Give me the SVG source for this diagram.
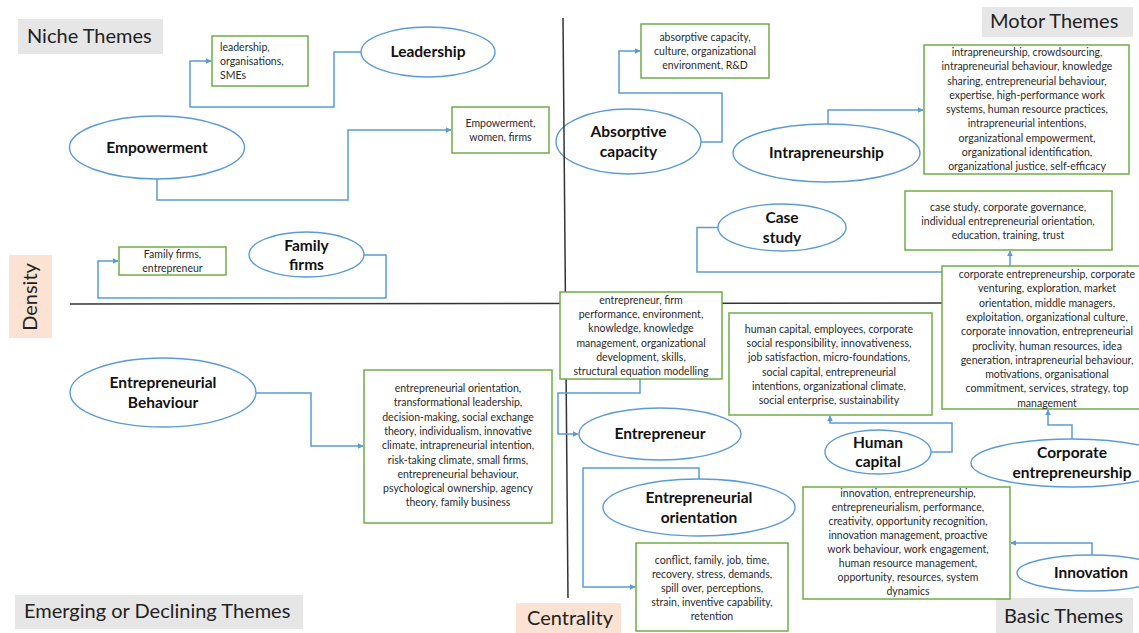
<svg xmlns="http://www.w3.org/2000/svg" width="1139" height="633" viewBox="0 0 1139 633">
<style>
.hdr{fill:#E7E6E6}
.axl{fill:#FBE2D2}
.ht{font-family:Lato,"Liberation Sans",sans-serif;font-size:20px;fill:#222}
.el{fill:#fff;stroke:#5B9BD5;stroke-width:1.4}
.bx{fill:#fff;stroke:#70AD47;stroke-width:1.5}
.lb{font-family:Lato,"Liberation Sans",sans-serif;font-size:15.5px;font-weight:bold;fill:#111;text-anchor:middle}
.tx{font-family:Lato,"Liberation Sans",sans-serif;font-size:10.5px;fill:#2a2a2a;text-anchor:middle}
.txl{font-family:Lato,"Liberation Sans",sans-serif;font-size:10.5px;fill:#2a2a2a}
.cn{fill:none;stroke:#5B9BD5;stroke-width:1.5}
.ax{stroke:#333;stroke-width:1.5;fill:none}
</style>
<defs>
<marker id="ar" viewBox="0 0 10 10" refX="9" refY="5" markerWidth="6" markerHeight="6" orient="auto" markerUnits="userSpaceOnUse">
<path d="M0,0 L10,5 L0,10 z" fill="#5B9BD5"/>
</marker>
</defs>
<rect width="1139" height="633" fill="#fff"/>

<g id="quadrant-labels">
<rect class="hdr" x="18" y="19" width="145" height="35"/>
<text class="ht" x="27" y="43">Niche Themes</text>
<rect class="hdr" x="982" y="7" width="151" height="30"/>
<text class="ht" x="990" y="28">Motor Themes</text>
<rect class="hdr" x="15" y="595" width="288" height="34"/>
<text class="ht" x="24" y="618">Emerging or Declining Themes</text>
<rect class="hdr" x="996" y="598" width="137" height="35"/>
<text class="ht" x="1004" y="623">Basic Themes</text>
<rect class="axl" x="9" y="255" width="43" height="83"/>
<text class="ht" x="0" y="0" text-anchor="middle" transform="translate(37,297) rotate(-90)">Density</text>
<rect class="axl" x="516" y="603" width="105" height="30"/>
<text class="ht" x="527" y="625">Centrality</text>
</g>

<g id="n-leadership"><ellipse class="el" cx="428" cy="52" rx="67" ry="25"/><text class="lb" x="428" y="57">Leadership</text></g>
<g id="n-empowerment"><ellipse class="el" cx="157" cy="147.5" rx="87.5" ry="31.5"/><text class="lb" x="157" y="153">Empowerment</text></g>
<g id="n-family-firms"><ellipse class="el" cx="306.5" cy="254.5" rx="57.5" ry="22.5"/><text class="lb" x="306.5" y="251">Family</text><text class="lb" x="306.5" y="270">firms</text></g>
<g id="n-absorptive"><ellipse class="el" cx="628.5" cy="141.5" rx="72.5" ry="32.5"/><text class="lb" x="628.5" y="137">Absorptive</text><text class="lb" x="628.5" y="157">capacity</text></g>
<g id="n-intrapreneurship"><ellipse class="el" cx="826.5" cy="153" rx="93.5" ry="29"/><text class="lb" x="826.5" y="158">Intrapreneurship</text></g>
<g id="n-case-study"><ellipse class="el" cx="782" cy="227.5" rx="64" ry="23.5"/><text class="lb" x="782" y="223">Case</text><text class="lb" x="782" y="243">study</text></g>
<g id="n-entrepreneurial-behaviour"><ellipse class="el" cx="163" cy="392.5" rx="93" ry="34.5"/><text class="lb" x="163" y="388">Entrepreneurial</text><text class="lb" x="163" y="408">Behaviour</text></g>
<g id="n-entrepreneur"><ellipse class="el" cx="660" cy="434" rx="81" ry="26"/><text class="lb" x="660" y="439">Entrepreneur</text></g>
<g id="n-entrepreneurial-orientation"><ellipse class="el" cx="699" cy="507.5" rx="96" ry="28.5"/><text class="lb" x="699" y="503">Entrepreneurial</text><text class="lb" x="699" y="523">orientation</text></g>
<g id="n-human-capital"><ellipse class="el" cx="878" cy="452" rx="53" ry="22"/><text class="lb" x="878" y="448">Human</text><text class="lb" x="878" y="467">capital</text></g>
<g id="n-corporate-entrepreneurship"><ellipse class="el" cx="1072" cy="463" rx="101" ry="24"/><text class="lb" x="1072" y="458">Corporate</text><text class="lb" x="1072" y="478">entrepreneurship</text></g>
<g id="n-innovation"><ellipse class="el" cx="1091" cy="573" rx="74" ry="18"/><text class="lb" x="1091" y="578">Innovation</text></g>

<g id="axes">
<line class="ax" x1="563" y1="18" x2="568" y2="598"/>
<line class="ax" x1="70" y1="304" x2="942" y2="303"/>
</g>

<g id="connectors">
<polyline class="cn" points="361,52 334,52 334,107 190,107 190,61 211,61" marker-end="url(#ar)"/>
<polyline class="cn" points="157,179 157,200 348,200 348,130 451,130" marker-end="url(#ar)"/>
<polyline class="cn" points="364,255 386,255 386,298 98,298 98,261 118,261" marker-end="url(#ar)"/>
<polyline class="cn" points="701,142 722,142 722,93 619,93 619,51 640,51" marker-end="url(#ar)"/>
<polyline class="cn" points="828,124 828,110 923,110" marker-end="url(#ar)"/>
<polyline class="cn" points="718,227.5 697,227.5 697,272 942,272"/>
<polyline class="cn" points="1010,266 1010,251" marker-end="url(#ar)"/>
<polyline class="cn" points="256,393 311,393 311,446 363,446" marker-end="url(#ar)"/>
<polyline class="cn" points="640,379 640,393 558,393 558,434 578,434" marker-end="url(#ar)"/>
<polyline class="cn" points="699,479 699,468 583,468 583,587 635,587" marker-end="url(#ar)"/>
<polyline class="cn" points="931,452 952,452 952,423 830,423 830,416" marker-end="url(#ar)"/>
<polyline class="cn" points="1072,439 1072,425 1048,425 1048,410" marker-end="url(#ar)"/>
<polyline class="cn" points="1092,555 1092,543 1011,543" marker-end="url(#ar)"/>
</g>

<g id="b-leadership"><rect class="bx" x="212" y="36" width="96" height="50"/>
<text class="txl" x="220" y="51">leadership,</text><text class="txl" x="220" y="65">organisations,</text><text class="txl" x="220" y="79">SMEs</text></g>
<g id="b-empowerment"><rect class="bx" x="452" y="107" width="97" height="46"/>
<text class="tx" x="500.5" y="127">Empowerment,</text><text class="tx" x="500.5" y="141">women, firms</text></g>
<g id="b-family-firms"><rect class="bx" x="119" y="247" width="107" height="28"/>
<text class="tx" x="172.5" y="258">Family firms,</text><text class="tx" x="172.5" y="272">entrepreneur</text></g>
<g id="b-absorptive"><rect class="bx" x="641" y="24" width="128" height="54"/>
<text class="tx" x="705" y="41">absorptive capacity,</text><text class="tx" x="705" y="55">culture, organizational</text><text class="tx" x="705" y="69">environment, R&amp;D</text></g>
<g id="b-intrapreneurship"><rect class="bx" x="924" y="45" width="205" height="129"/>
<text class="tx" x="1027" y="56">intrapreneurship, crowdsourcing,</text>
<text class="tx" x="1027" y="70">intrapreneurial behaviour, knowledge</text>
<text class="tx" x="1027" y="84.5">sharing, entrepreneurial behaviour,</text>
<text class="tx" x="1027" y="98.5">expertise, high-performance work</text>
<text class="tx" x="1027" y="113">systems, human resource practices,</text>
<text class="tx" x="1027" y="127">intrapreneurial intentions,</text>
<text class="tx" x="1027" y="141.5">organizational empowerment,</text>
<text class="tx" x="1027" y="155.5">organizational identification,</text>
<text class="tx" x="1027" y="170">organizational justice, self-efficacy</text></g>
<g id="b-case-study"><rect class="bx" x="905" y="191" width="207" height="59"/>
<text class="tx" x="1008" y="211">case study, corporate governance,</text>
<text class="tx" x="1008" y="225">individual entrepreneurial orientation,</text>
<text class="tx" x="1008" y="239">education, training, trust</text></g>
<g id="b-corporate-entrepreneurship"><rect class="bx" x="942" y="266" width="210" height="143"/>
<text class="tx" x="1047" y="278">corporate entrepreneurship, corporate</text>
<text class="tx" x="1047" y="292.3">venturing, exploration, market</text>
<text class="tx" x="1047" y="306.6">orientation, middle managers,</text>
<text class="tx" x="1047" y="320.9">exploitation, organizational culture,</text>
<text class="tx" x="1047" y="335.2">corporate innovation, entrepreneurial</text>
<text class="tx" x="1047" y="349.5">proclivity, human resources, idea</text>
<text class="tx" x="1047" y="363.8">generation, intrapreneurial behaviour,</text>
<text class="tx" x="1047" y="378.1">motivations, organisational</text>
<text class="tx" x="1047" y="392.4">commitment, services, strategy, top</text>
<text class="tx" x="1047" y="406.7">management</text></g>
<g id="b-entrepreneurial-behaviour"><rect class="bx" x="364" y="370" width="188" height="153"/>
<text class="tx" x="458" y="392">entrepreneurial orientation,</text>
<text class="tx" x="458" y="406.3">transformational leadership,</text>
<text class="tx" x="458" y="420.6">decision-making, social exchange</text>
<text class="tx" x="458" y="434.9">theory, individualism, innovative</text>
<text class="tx" x="458" y="449.2">climate, intrapreneurial intention,</text>
<text class="tx" x="458" y="463.5">risk-taking climate, small firms,</text>
<text class="tx" x="458" y="477.8">entrepreneurial behaviour,</text>
<text class="tx" x="458" y="492.1">psychological ownership, agency</text>
<text class="tx" x="458" y="506.4">theory, family business</text></g>
<g id="b-entrepreneur"><rect class="bx" x="560" y="292" width="162" height="87"/>
<text class="tx" x="641" y="304">entrepreneur, firm</text>
<text class="tx" x="641" y="318.2">performance, environment,</text>
<text class="tx" x="641" y="332.4">knowledge, knowledge</text>
<text class="tx" x="641" y="346.6">management, organizational</text>
<text class="tx" x="641" y="360.8">development, skills,</text>
<text class="tx" x="641" y="375">structural equation modelling</text></g>
<g id="b-human-capital"><rect class="bx" x="729" y="313" width="203" height="102"/>
<text class="tx" x="829" y="333">human capital, employees, corporate</text>
<text class="tx" x="829" y="347.2">social responsibility, innovativeness,</text>
<text class="tx" x="829" y="361.4">job satisfaction, micro-foundations,</text>
<text class="tx" x="829" y="375.6">social capital, entrepreneurial</text>
<text class="tx" x="829" y="389.8">intentions, organizational climate,</text>
<text class="tx" x="829" y="404">social enterprise, sustainability</text></g>
<g id="b-entrepreneurial-orientation"><rect class="bx" x="636" y="543" width="152" height="88"/>
<text class="tx" x="712" y="563.5">conflict, family, job, time,</text>
<text class="tx" x="712" y="577.7">recovery, stress, demands,</text>
<text class="tx" x="712" y="591.9">spill over, perceptions,</text>
<text class="tx" x="712" y="606.1">strain, inventive capability,</text>
<text class="tx" x="712" y="620.3">retention</text></g>
<g id="b-innovation"><rect class="bx" x="803" y="487" width="207" height="112"/>
<text class="tx" x="908" y="497">innovation, entrepreneurship,</text>
<text class="tx" x="908" y="511">entrepreneurialism, performance,</text>
<text class="tx" x="908" y="525">creativity, opportunity recognition,</text>
<text class="tx" x="908" y="539">innovation management, proactive</text>
<text class="tx" x="908" y="553">work behaviour, work engagement,</text>
<text class="tx" x="908" y="567">human resource management,</text>
<text class="tx" x="908" y="581">opportunity, resources, system</text>
<text class="tx" x="908" y="595">dynamics</text></g>
</svg>
